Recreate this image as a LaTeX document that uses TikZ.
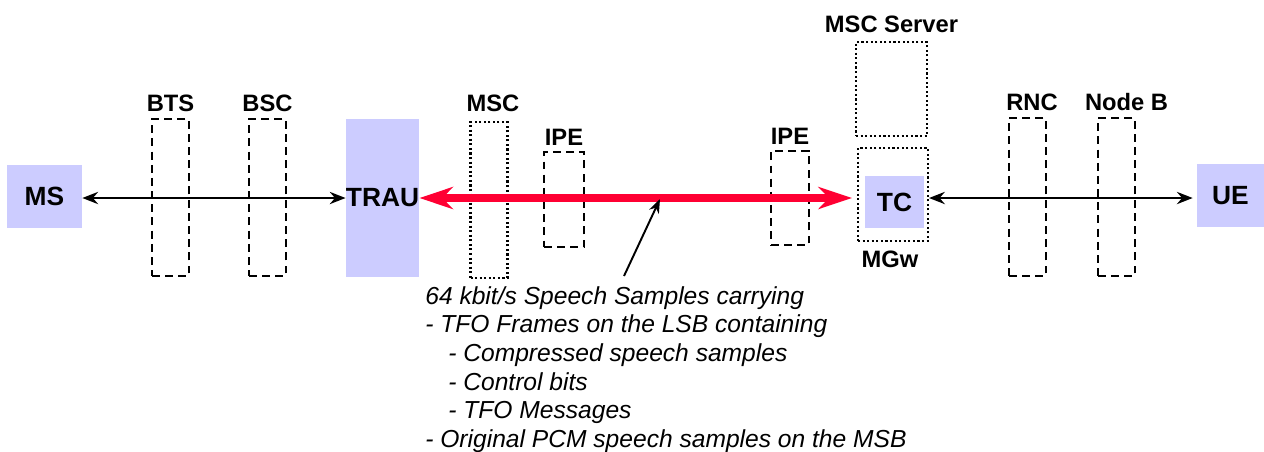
\documentclass[tikz,border=0pt]{standalone}
\usepackage{fontspec}
\setmainfont{Liberation Sans}
\usetikzlibrary{positioning}
\usetikzlibrary{arrows.meta}
\definecolor{mylilac}{RGB}{204,204,255}
\definecolor{myred}{RGB}{255,0,51}
\tikzstyle{entity}=[fill=mylilac, inner sep=0pt, font=\fontsize{15}{18}\selectfont\bfseries]
\tikzstyle{dashbox}=[draw, line width=1.2pt, dash pattern=on 4.5pt off 3pt, minimum width=0.74cm, inner sep=0pt]
\tikzstyle{dotbox}=[draw, line width=1.2pt, dash pattern=on 1.2pt off 1.4pt, inner sep=0pt]
\tikzstyle{netname}=[font=\fontsize{13.5}{16}\selectfont\bfseries, inner sep=0pt]
\tikzstyle{link}=[line width=1.1pt, {Stealth[length=9pt,width=7pt,inset=3pt]}-{Stealth[length=9pt,width=7pt,inset=3pt]}]
\tikzstyle{speech}=[myred, line width=4.5pt, {Stealth[length=19pt,width=12.5pt,inset=6pt]}-{Stealth[length=19pt,width=12.5pt,inset=6pt]}]

\begin{document}
\begin{tikzpicture}[x=0.02cm, y=-0.02cm]

\useasboundingbox (0,0) rectangle (1264,451);

% GSM side
\node[entity, minimum width=1.5cm, minimum height=1.26cm] (ms) at (44.5,196.5) {MS};
\node[dashbox, minimum height=3.14cm] (bts) at (170.5,197.5) {};
\node[dashbox, minimum height=3.14cm] (bsc) at (267.5,197.5) {};
\node[entity, minimum width=1.46cm, minimum height=3.16cm] (trau) at (382.5,198) {TRAU};

% core
\node[dotbox, minimum width=0.74cm, minimum height=3.12cm] (msc) at (489,200) {};
\node[dashbox, minimum width=0.8cm, minimum height=1.9cm] (ipeA) at (564,199.5) {};
\node[dashbox, minimum width=0.76cm, minimum height=1.88cm] (ipeB) at (790,198) {};
\node[dotbox, minimum width=1.42cm, minimum height=1.88cm] (mscs) at (891.5,89) {};
\node[dotbox, minimum width=1.4cm, minimum height=1.86cm] (mgw) at (893,194.5) {};
\node[entity, minimum width=1.18cm, minimum height=1.04cm] (tc) at (894.5,202) {TC};

% UMTS side
\node[dashbox, minimum height=3.16cm] (rnc) at (1027.5,197) {};
\node[dashbox, minimum height=3.16cm] (nodeb) at (1116.5,197) {};
\node[entity, minimum width=1.34cm, minimum height=1.26cm] (ue) at (1230.5,195.5) {UE};

% names
\node[netname, above=0.12cm of bts] (btsname) {BTS};
\node[netname, above=0.12cm of bsc] (bscname) {BSC};
\node[netname, above=0.18cm of msc, xshift=0.08cm] (mscname) {MSC};
\node[netname, above=0.1cm of ipeA] (ipeAname) {IPE};
\node[netname, above=0.1cm of ipeB] (ipeBname) {IPE};
\node[netname, above=0.16cm of mscs] (mscsname) {MSC Server};
\node[netname, below=0.18cm of mgw, xshift=-0.06cm] (mgwname) {MGw};
\node[netname, above=0.12cm of rnc, xshift=0.09cm] (rncname) {RNC};
\node[netname, above=0.12cm of nodeb, xshift=0.2cm] (nodebname) {Node B};

\node[anchor=north west, align=left, inner sep=0pt,
      font=\fontsize{14}{16.3}\selectfont\itshape] (note) at (425,286) {%
64 kbit/s Speech Samples carrying\\
- TFO Frames on the LSB containing\\
\hspace*{0.46cm}- Compressed speech samples\\
\hspace*{0.46cm}- Control bits\\
\hspace*{0.46cm}- TFO Messages\\
- Original PCM speech samples on the MSB};

\coordinate (notefoot) at (624,276);
\coordinate (onpath) at (660,199);

\draw[link] (ms.east |- trau) -- (trau.west);
\draw[speech, shorten >=0.1cm] (trau.east) -- (mgw.west |- trau);
\draw[link, shorten >=0.08cm] (mgw.east |- trau) -- (ue.west |- trau);
\draw[line width=1.1pt, -{Stealth[length=8pt,width=6pt,inset=2.5pt]}] (notefoot) -- (onpath);

\end{tikzpicture}
\end{document}
